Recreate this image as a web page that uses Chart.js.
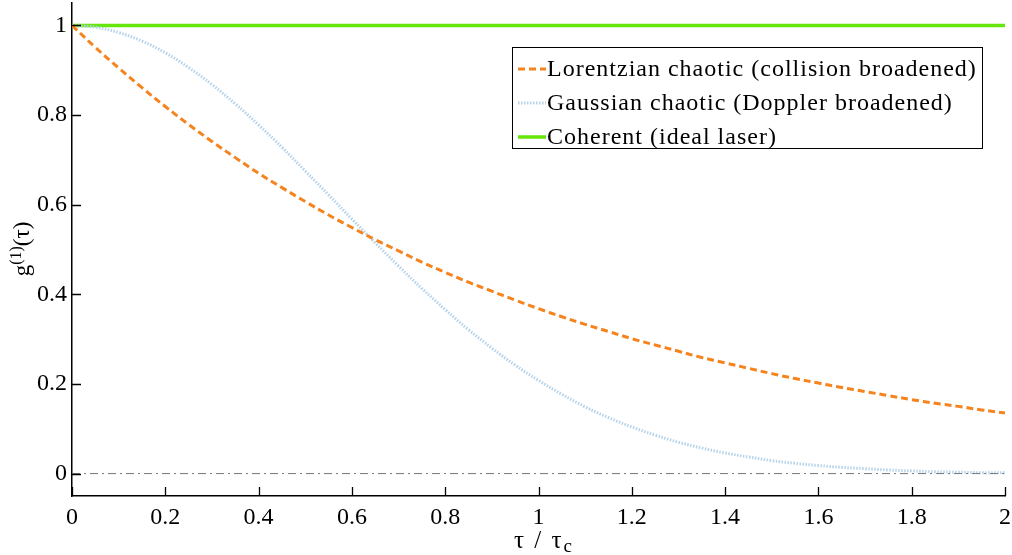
<!DOCTYPE html>
<html>
<head>
<meta charset="utf-8">
<script src="https://cdn.jsdelivr.net/npm/chart.js@4"></script>
<style>
  html, body { margin: 0; padding: 0; background: #fff; }
  #wrap { width: 1012px; height: 555px; }
</style>
</head>
<body>
<div id="wrap"><canvas id="chart"></canvas></div>
<script>
// tau / tau_c sample positions
const tau = [0, 0.05, 0.1, 0.15, 0.2, 0.25, 0.3, 0.35, 0.4, 0.45, 0.5, 0.55, 0.6, 0.65, 0.7, 0.75,
  0.8, 0.85, 0.9, 0.95, 1, 1.05, 1.1, 1.15, 1.2, 1.25, 1.3, 1.35, 1.4, 1.45, 1.5, 1.55, 1.6,
  1.65, 1.7, 1.75, 1.8, 1.85, 1.9, 1.95, 2];
const lorentzian = [1, 0.951, 0.905, 0.861, 0.819, 0.779, 0.741, 0.705, 0.670, 0.638, 0.607,
  0.577, 0.549, 0.522, 0.497, 0.472, 0.449, 0.427, 0.407, 0.387, 0.368, 0.350, 0.333, 0.317,
  0.301, 0.287, 0.273, 0.259, 0.247, 0.235, 0.223, 0.212, 0.202, 0.192, 0.183, 0.174, 0.165,
  0.157, 0.150, 0.142, 0.135];
const gaussian = [1, 0.996, 0.984, 0.965, 0.939, 0.906, 0.868, 0.825, 0.778, 0.728, 0.675,
  0.622, 0.568, 0.515, 0.463, 0.413, 0.366, 0.321, 0.280, 0.242, 0.208, 0.177, 0.149, 0.125,
  0.104, 0.086, 0.070, 0.057, 0.046, 0.037, 0.029, 0.023, 0.018, 0.014, 0.011, 0.008, 0.006,
  0.004, 0.003, 0.002, 0.002];
const coherentX = [0, 2];
const coherent = [1, 1];
const zeroX = [0, 2];
const zeroY = [0, 0];
const xTicks = [0, 0.2, 0.4, 0.6, 0.8, 1, 1.2, 1.4, 1.6, 1.8, 2];
const yTicks = [0, 0.2, 0.4, 0.6, 0.8, 1];

const FONT = "'Liberation Serif', 'DejaVu Serif', serif";

const pts = (xs, ys) => xs.map((x, i) => ({ x: x, y: ys[i] }));

// inward tick marks, axis titles and the boxed legend
const decor = {
  id: "decor",
  afterDraw(chart) {
    const { ctx, chartArea: a, scales } = chart;
    const xs = scales.x, ys = scales.y;
    ctx.save();
    ctx.strokeStyle = "#000";
    ctx.lineWidth = 1.3;
    ctx.beginPath();
    xTicks.forEach((v) => {
      const px = Math.round(xs.getPixelForValue(v)) + 0.5;
      ctx.moveTo(px, a.bottom);
      ctx.lineTo(px, a.bottom - 9);
    });
    yTicks.forEach((v) => {
      const py = Math.round(ys.getPixelForValue(v)) + 0.5;
      ctx.moveTo(a.left, py);
      ctx.lineTo(a.left + 9, py);
    });
    ctx.stroke();

    // x title: τ / τ_c
    ctx.fillStyle = "#000";
    ctx.textBaseline = "alphabetic";
    ctx.textAlign = "left";
    ctx.letterSpacing = "2px";
    ctx.font = "25px " + FONT;
    const main = "τ / τ";
    const wMain = ctx.measureText(main).width;
    const x0 = 514;
    ctx.fillText(main, x0, 548);
    ctx.letterSpacing = "0px";
    ctx.font = "19px " + FONT;
    ctx.fillText("c", x0 + wMain, 552);

    // y title: g^(1)(τ)
    ctx.save();
    ctx.translate(29, 249);
    ctx.rotate(-Math.PI / 2);
    const parts = [["g", 23, 0], ["(1)", 16, -8], ["(τ)", 23, 0]];
    let tot = 0;
    parts.forEach((p) => { ctx.font = p[1] + "px " + FONT; tot += ctx.measureText(p[0]).width; });
    let cx = -tot / 2;
    parts.forEach((p) => {
      ctx.font = p[1] + "px " + FONT;
      ctx.fillText(p[0], cx, p[2]);
      cx += ctx.measureText(p[0]).width;
    });
    ctx.restore();

    // legend box
    const bx = 512, by = 47, bw = 470, bh = 101;
    ctx.fillStyle = "#fff";
    ctx.fillRect(bx, by, bw, bh);
    ctx.strokeStyle = "#000";
    ctx.lineWidth = 1;
    ctx.strokeRect(bx + 0.5, by + 0.5, bw, bh);
    const items = chart.data.datasets.filter((d) => d.label);
    ctx.font = "24px " + FONT;
    ctx.letterSpacing = "1px";
    ctx.textBaseline = "middle";
    items.forEach((d, i) => {
      const yy = by + 22 + i * 34;
      ctx.save();
      ctx.strokeStyle = d.borderColor;
      ctx.lineWidth = d.borderWidth;
      ctx.setLineDash(d.borderDash || []);
      ctx.beginPath();
      ctx.moveTo(bx + 6, yy);
      ctx.lineTo(bx + 34, yy);
      ctx.stroke();
      ctx.restore();
      ctx.fillStyle = "#000";
      ctx.fillText(d.label, bx + 35, yy + 1);
    });
    ctx.letterSpacing = "0px";
    ctx.restore();
  },
};

new Chart(document.getElementById("chart"), {
  type: "line",
  data: {
    datasets: [
      {
        label: "",
        data: pts(zeroX, zeroY),
        borderColor: "#777",
        borderWidth: 1,
        borderDash: [8, 4, 2, 4],
        pointRadius: 0,
      },
      {
        label: "Lorentzian chaotic (collision broadened)",
        data: pts(tau, lorentzian),
        borderColor: "#f5841f",
        borderWidth: 3,
        borderDash: [7, 4],
        pointRadius: 0,
        tension: 0.4,
      },
      {
        label: "Gaussian chaotic (Doppler broadened)",
        data: pts(tau, gaussian),
        borderColor: "#b6d3ea",
        borderWidth: 3,
        borderDash: [1.5, 1.5],
        pointRadius: 0,
        tension: 0.4,
      },
      {
        label: "Coherent (ideal laser)",
        data: pts(coherentX, coherent),
        borderColor: "#66e60a",
        borderWidth: 3.5,
        pointRadius: 0,
      },
    ],
  },
  options: {
    responsive: true,
    maintainAspectRatio: false,
    animation: false,
    layout: { padding: { top: 3, right: 7, left: 0, bottom: 0 } },
    plugins: { legend: { display: false }, tooltip: { enabled: false } },
    scales: {
      x: {
        type: "linear",
        min: 0,
        max: 2,
        afterBuildTicks: (s) => { s.ticks = xTicks.map((v) => ({ value: v })); },
        afterFit: (s) => { s.height = 59; s.paddingLeft = 0; s.paddingRight = 0; },
        grid: { display: false, drawTicks: false },
        border: { display: true, color: "#000", width: 1.5 },
        ticks: {
          color: "#000",
          font: { family: FONT, size: 24 },
          padding: 7,
          maxRotation: 0,
          callback: (v) => String(v),
        },
      },
      y: {
        type: "linear",
        min: -0.05,
        max: 1.05,
        afterBuildTicks: (s) => { s.ticks = yTicks.map((v) => ({ value: v })); },
        afterFit: (s) => { s.width = 72; s.paddingTop = 0; s.paddingBottom = 0; },
        grid: { display: false, drawTicks: false },
        border: { display: true, color: "#000", width: 1.5 },
        ticks: {
          color: "#000",
          font: { family: FONT, size: 24 },
          padding: 5,
          callback: (v) => String(v),
        },
      },
    },
  },
  plugins: [decor],
});
</script>
</body>
</html>
